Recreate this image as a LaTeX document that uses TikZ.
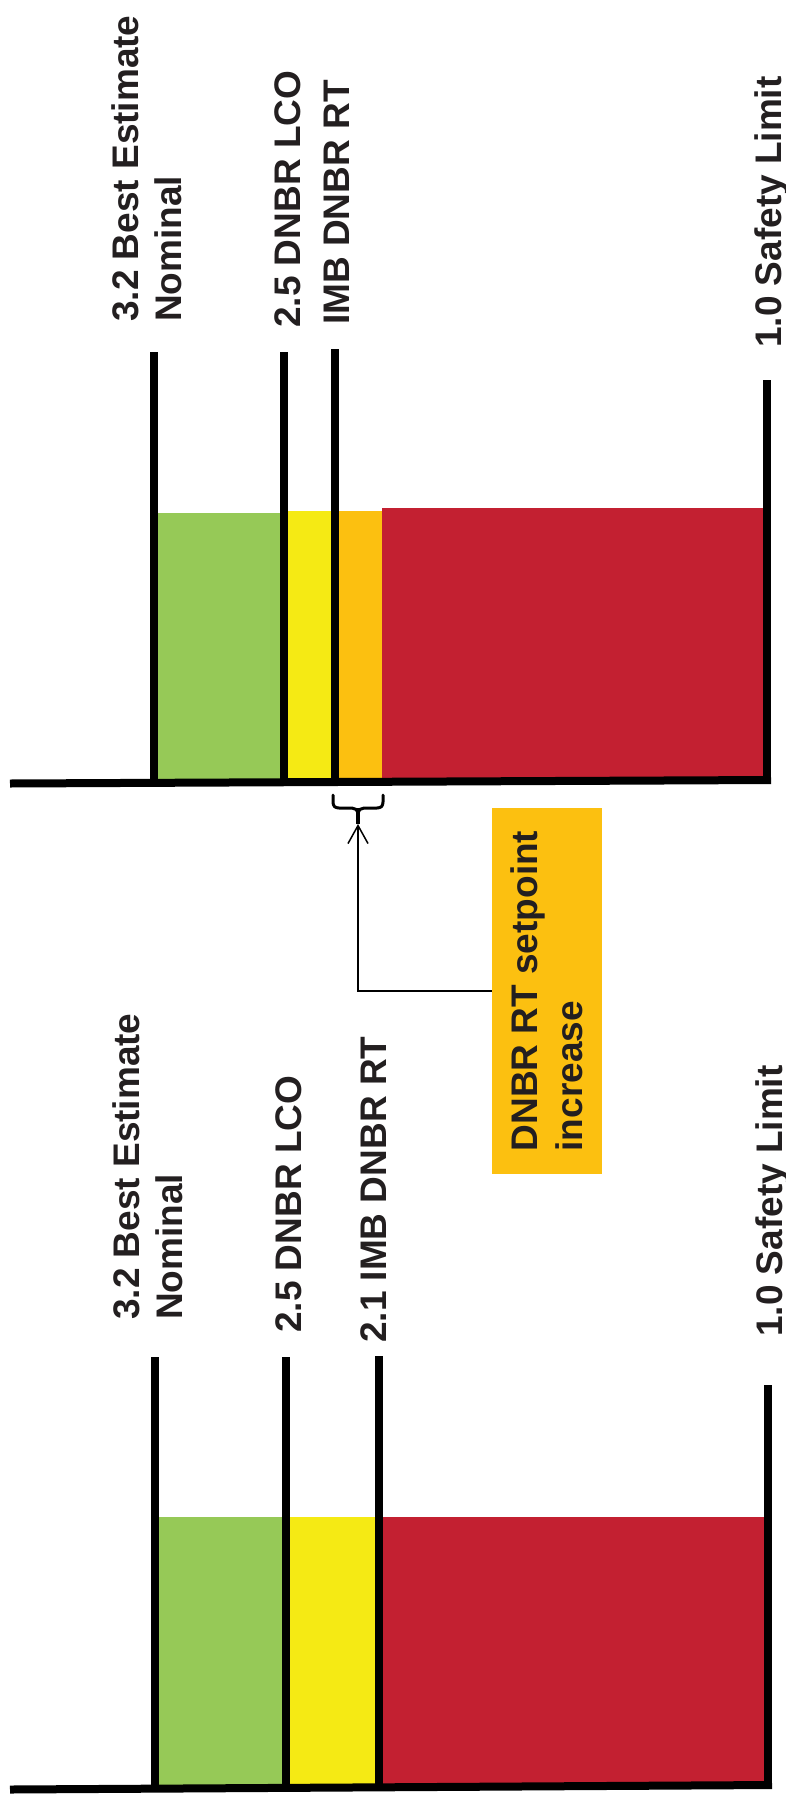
\documentclass[tikz,border=0pt]{standalone}
\usepackage{fontspec}
\setmainfont{Liberation Sans}
\usetikzlibrary{arrows.meta}

\definecolor{zoneGreen}{HTML}{96C957}
\definecolor{zoneYellow}{HTML}{F5EA14}
\definecolor{zoneOrange}{HTML}{FCC010}
\definecolor{zoneRed}{HTML}{C32031}
\definecolor{inkGray}{HTML}{231F20}

\begin{document}
\begin{tikzpicture}[x=1pt, y=-1pt,
  bar/.style={line width=8pt, black},
  axisline/.style={line width=8pt, black},
  lbl/.style={rotate=90, inner sep=0pt, text=inkGray,
    font=\bfseries\fontsize{37}{43}\selectfont},
  notebox/.style={rotate=90, fill=zoneOrange, minimum width=366pt,
    minimum height=110pt, inner sep=0pt, align=left, text=inkGray,
    font=\bfseries\fontsize{37}{45}\selectfont},
  link/.style={line width=1.5pt, black,
    -{Straight Barb[length=18pt, width=20pt, line width=1.5pt]}},
  bracestroke/.style={line width=3pt, black, line cap=round, line join=round}]

\useasboundingbox (0,0) rectangle (786,1803);

% ---------- upper chart: setpoint raised ----------
\fill[zoneGreen]  (154,513) rectangle (284,782);
\fill[zoneYellow] (284,511) rectangle (335,782);
\fill[zoneOrange] (335,511) rectangle (382,782);
\fill[zoneRed]    (382,508) rectangle (767,781);

\draw[bar] (154,352) -- (154,783);
\draw[bar] (284,352) -- (284,782);
\draw[bar] (335,349) -- (335,781);
\draw[bar] (767,380) -- (767,784);
\draw[axisline] (10,783.5) -- (771,780);

\node[lbl, anchor=south west, align=left] (upNom) at (182,322) {3.2 Best Estimate\\Nominal};
\node[lbl, anchor=base west] (upLco) at (300,328) {2.5 DNBR LCO};
\node[lbl, anchor=base west] (upRt)  at (349,325) {IMB DNBR RT};
\node[lbl, anchor=base west] (upSl)  at (781,348) {1.0 Safety Limit};

% brace under the raised band
\coordinate (braceTip) at (358,824);
\draw[bracestroke] (333,795) -- (333,802) .. controls (333,806) and (335,808) .. (339,808)
  -- (352,808) .. controls (355,808) and (358,810) .. (358,813)
  .. controls (358,810) and (361,808) .. (364,808)
  -- (377,808) .. controls (381,808) and (383,806) .. (383,802) -- (383,795);
\draw[line width=3.5pt, black] (358,808) -- (braceTip);

% annotation box and its pointer
\node[notebox] (incr) at (547,991) {DNBR RT setpoint\\increase};
\draw[link] (incr.north) -| (braceTip);

% ---------- lower chart: original setpoint ----------
\fill[zoneGreen]  (155,1517) rectangle (285.5,1788);
\fill[zoneYellow] (285.5,1517) rectangle (379,1787);
\fill[zoneRed]    (379,1517) rectangle (767.5,1786);

\draw[bar] (155,1357) -- (155,1789);
\draw[bar] (285.5,1357) -- (285.5,1788);
\draw[bar] (379,1356) -- (379,1787);
\draw[bar] (767.5,1385) -- (767.5,1789);
\draw[axisline] (10,1789.5) -- (772,1785);

\node[lbl, anchor=south west, align=left] (loNom) at (183,1320) {3.2 Best Estimate\\Nominal};
\node[lbl, anchor=base west] (loLco) at (301,1333) {2.5 DNBR LCO};
\node[lbl, anchor=base west] (loRt)  at (386,1343) {2.1 IMB DNBR RT};
\node[lbl, anchor=base west] (loSl)  at (782,1337) {1.0 Safety Limit};

\end{tikzpicture}
\end{document}
